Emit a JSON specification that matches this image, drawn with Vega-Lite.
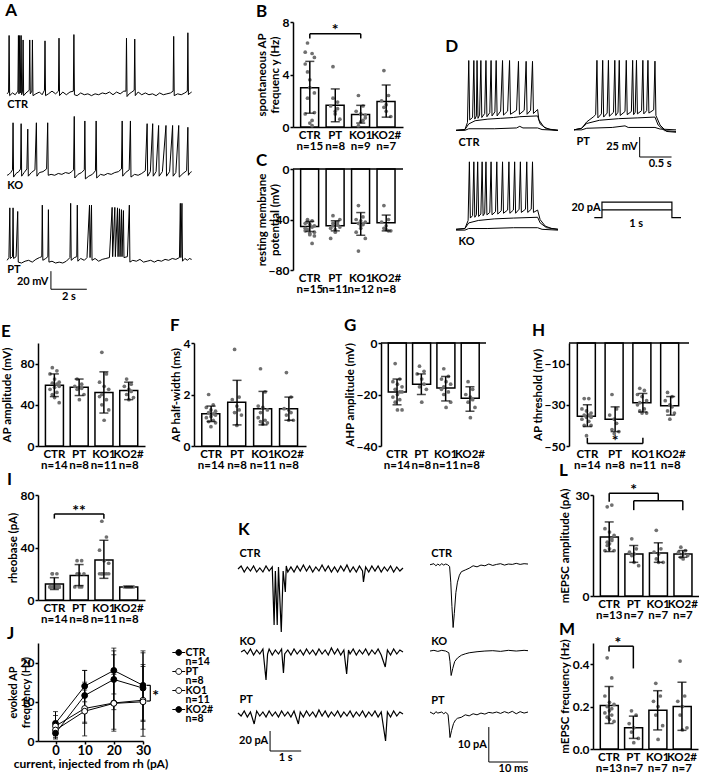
{
"$schema":"https://vega.github.io/schema/vega-lite/v6.json",
"background":"white",
"padding":{"left":0,"top":2,"right":0,"bottom":0},
"datasets":{
"aC":[{"t":0,"v":-60},{"t":0.08,"v":-58},{"t":0.11,"v":5},{"t":0.14,"v":-62},{"t":0.3,"v":-59},{"t":0.45,"v":-61},{"t":0.6,"v":-57},{"t":0.63,"v":5},{"t":0.66,"v":-60},{"t":0.7,"v":5},{"t":0.73,"v":-59},{"t":0.78,"v":5},{"t":0.81,"v":-61},{"t":0.86,"v":-57},{"t":0.89,"v":0},{"t":0.92,"v":-62},{"t":1.05,"v":-59},{"t":1.23,"v":-56},{"t":1.26,"v":0},{"t":1.29,"v":-60},{"t":1.38,"v":-57},{"t":1.41,"v":0},{"t":1.44,"v":-62},{"t":1.6,"v":-60},{"t":1.8,"v":-58},{"t":1.95,"v":-61},{"t":2.08,"v":-56},{"t":2.11,"v":-1},{"t":2.14,"v":-62},{"t":2.3,"v":-60},{"t":2.5,"v":-57},{"t":2.7,"v":-60},{"t":2.86,"v":-57},{"t":2.89,"v":2},{"t":2.92,"v":-62},{"t":3.1,"v":-58},{"t":3.3,"v":-61},{"t":3.5,"v":-58},{"t":3.69,"v":-57},{"t":3.72,"v":6},{"t":3.75,"v":-61},{"t":3.9,"v":-62},{"t":4.1,"v":-59},{"t":4.3,"v":-61},{"t":4.5,"v":-60},{"t":4.7,"v":-62},{"t":4.9,"v":-60},{"t":5.1,"v":-61},{"t":5.3,"v":-59},{"t":5.5,"v":-60},{"t":5.7,"v":-58},{"t":5.9,"v":-61},{"t":6.1,"v":-58},{"t":6.3,"v":-60},{"t":6.5,"v":-57},{"t":6.62,"v":-57},{"t":6.65,"v":2},{"t":6.68,"v":-63},{"t":6.8,"v":-60},{"t":6.95,"v":-58},{"t":7.08,"v":-56},{"t":7.11,"v":1},{"t":7.14,"v":-62},{"t":7.3,"v":-58},{"t":7.5,"v":-61},{"t":7.7,"v":-59},{"t":7.9,"v":-61},{"t":8.1,"v":-60},{"t":8.3,"v":-62},{"t":8.5,"v":-59},{"t":8.7,"v":-61},{"t":8.9,"v":-60},{"t":9.1,"v":-59},{"t":9.25,"v":-57},{"t":9.28,"v":4},{"t":9.31,"v":-62},{"t":9.5,"v":-60},{"t":9.7,"v":-61},{"t":9.9,"v":-59},{"t":10.04,"v":-57},{"t":10.07,"v":8},{"t":10.1,"v":-61},{"t":10.2,"v":-59},{"t":10.28,"v":-58}],
"aK":[{"t":0,"v":-61},{"t":0.1,"v":-60},{"t":0.2,"v":-58},{"t":0.3,"v":-55},{"t":0.33,"v":-3},{"t":0.36,"v":-63},{"t":0.5,"v":-59},{"t":0.65,"v":-57},{"t":0.75,"v":-54},{"t":0.78,"v":-4},{"t":0.81,"v":-62},{"t":0.95,"v":-58},{"t":1.1,"v":-54},{"t":1.15,"v":-10},{"t":1.18,"v":-62},{"t":1.35,"v":-58},{"t":1.55,"v":-55},{"t":1.63,"v":-3},{"t":1.66,"v":-62},{"t":1.8,"v":-58},{"t":2.0,"v":-57},{"t":2.2,"v":-54},{"t":2.26,"v":-3},{"t":2.29,"v":-61},{"t":2.45,"v":-60},{"t":2.65,"v":-61},{"t":2.85,"v":-59},{"t":3.05,"v":-60},{"t":3.25,"v":-58},{"t":3.45,"v":-59},{"t":3.6,"v":-57},{"t":3.7,"v":-55},{"t":3.74,"v":4},{"t":3.77,"v":-64},{"t":3.95,"v":-60},{"t":4.15,"v":-58},{"t":4.3,"v":-55},{"t":4.33,"v":-1},{"t":4.36,"v":-65},{"t":4.55,"v":-62},{"t":4.75,"v":-60},{"t":4.92,"v":-56},{"t":4.96,"v":-1},{"t":4.99,"v":-64},{"t":5.2,"v":-60},{"t":5.4,"v":-61},{"t":5.6,"v":-59},{"t":5.8,"v":-60},{"t":6.0,"v":-58},{"t":6.2,"v":-57},{"t":6.37,"v":-54},{"t":6.41,"v":-1},{"t":6.44,"v":-62},{"t":6.6,"v":-58},{"t":6.8,"v":-55},{"t":6.87,"v":-1},{"t":6.9,"v":-63},{"t":7.1,"v":-60},{"t":7.3,"v":-61},{"t":7.5,"v":-59},{"t":7.7,"v":-56},{"t":7.8,"v":-4},{"t":7.83,"v":-62},{"t":7.98,"v":-57},{"t":8.11,"v":-4},{"t":8.14,"v":-62},{"t":8.3,"v":-57},{"t":8.44,"v":-6},{"t":8.47,"v":-62},{"t":8.65,"v":-57},{"t":8.85,"v":-6},{"t":8.88,"v":-62},{"t":9.05,"v":-57},{"t":9.22,"v":-6},{"t":9.25,"v":-62},{"t":9.4,"v":-58},{"t":9.56,"v":-6},{"t":9.59,"v":-63},{"t":9.8,"v":-59},{"t":10.0,"v":-56},{"t":10.07,"v":-8},{"t":10.1,"v":-61},{"t":10.2,"v":-58},{"t":10.28,"v":-57}],
"aP":[{"t":0,"v":-60},{"t":0.1,"v":-57},{"t":0.15,"v":-2},{"t":0.18,"v":-58},{"t":0.3,"v":-56},{"t":0.33,"v":-2},{"t":0.36,"v":-58},{"t":0.5,"v":-56},{"t":0.59,"v":-6},{"t":0.62,"v":-62},{"t":0.8,"v":-63},{"t":1.0,"v":-61},{"t":1.2,"v":-60},{"t":1.4,"v":-62},{"t":1.6,"v":-59},{"t":1.8,"v":-57},{"t":1.93,"v":-56},{"t":1.96,"v":1},{"t":1.99,"v":-60},{"t":2.15,"v":-58},{"t":2.27,"v":-56},{"t":2.3,"v":-4},{"t":2.33,"v":-62},{"t":2.5,"v":-61},{"t":2.7,"v":-63},{"t":2.9,"v":-62},{"t":3.1,"v":-63},{"t":3.3,"v":-61},{"t":3.5,"v":-57},{"t":3.54,"v":3},{"t":3.57,"v":-60},{"t":3.75,"v":-57},{"t":3.88,"v":-56},{"t":3.91,"v":1},{"t":3.94,"v":-61},{"t":4.1,"v":-58},{"t":4.3,"v":-60},{"t":4.45,"v":-57},{"t":4.59,"v":1},{"t":4.62,"v":-57},{"t":4.7,"v":1},{"t":4.73,"v":-60},{"t":4.9,"v":-58},{"t":5.1,"v":-61},{"t":5.3,"v":-59},{"t":5.5,"v":-58},{"t":5.7,"v":-57},{"t":5.85,"v":-1.5},{"t":5.88,"v":-56},{"t":6.0,"v":-1.5},{"t":6.03,"v":-56},{"t":6.15,"v":-2},{"t":6.18,"v":-56},{"t":6.26,"v":-3},{"t":6.29,"v":-56},{"t":6.37,"v":-4},{"t":6.4,"v":-56},{"t":6.48,"v":-5},{"t":6.51,"v":-57},{"t":6.7,"v":-56},{"t":6.81,"v":1},{"t":6.84,"v":-62},{"t":7.0,"v":-60},{"t":7.2,"v":-61},{"t":7.4,"v":-59},{"t":7.6,"v":-62},{"t":7.8,"v":-61},{"t":8.0,"v":-60},{"t":8.2,"v":-62},{"t":8.4,"v":-60},{"t":8.6,"v":-61},{"t":8.8,"v":-59},{"t":9.0,"v":-60},{"t":9.2,"v":-58},{"t":9.4,"v":-59},{"t":9.6,"v":-57},{"t":9.65,"v":3},{"t":9.68,"v":-57},{"t":9.74,"v":3},{"t":9.77,"v":-61},{"t":9.9,"v":-58},{"t":10.05,"v":-60},{"t":10.15,"v":-58},{"t":10.28,"v":-59}],
"dC":[{"s":"a","t":0,"v":-68},{"s":"a","t":0.14,"v":-67},{"s":"a","t":0.18,"v":-58},{"s":"a","t":0.2,"v":19},{"s":"a","t":0.215,"v":-55},{"s":"a","t":0.26,"v":-52},{"s":"a","t":0.28,"v":19},{"s":"a","t":0.295,"v":-54},{"s":"a","t":0.32,"v":-50},{"s":"a","t":0.33,"v":19},{"s":"a","t":0.345,"v":-53},{"s":"a","t":0.37,"v":-49},{"s":"a","t":0.39,"v":19},{"s":"a","t":0.405,"v":-52},{"s":"a","t":0.45,"v":-47},{"s":"a","t":0.47,"v":19},{"s":"a","t":0.485,"v":-51},{"s":"a","t":0.53,"v":-46},{"s":"a","t":0.55,"v":19},{"s":"a","t":0.565,"v":-50},{"s":"a","t":0.61,"v":-45},{"s":"a","t":0.63,"v":19},{"s":"a","t":0.645,"v":-50},{"s":"a","t":0.7,"v":-44},{"s":"a","t":0.73,"v":19},{"s":"a","t":0.745,"v":-49},{"s":"a","t":0.81,"v":-44},{"s":"a","t":0.84,"v":19},{"s":"a","t":0.855,"v":-48},{"s":"a","t":0.95,"v":-43},{"s":"a","t":0.98,"v":18},{"s":"a","t":0.995,"v":-48},{"s":"a","t":1.07,"v":-43},{"s":"a","t":1.1,"v":18},{"s":"a","t":1.115,"v":-48},{"s":"a","t":1.17,"v":-43},{"s":"a","t":1.2,"v":18},{"s":"a","t":1.215,"v":-47},{"s":"a","t":1.28,"v":-42},{"s":"a","t":1.3,"v":-55},{"s":"a","t":1.38,"v":-64},{"s":"a","t":1.48,"v":-67},{"s":"a","t":1.6,"v":-68},
{"s":"b","t":0,"v":-68},{"s":"b","t":0.14,"v":-67},{"s":"b","t":0.2,"v":-60},{"s":"b","t":0.3,"v":-56},{"s":"b","t":0.5,"v":-54},{"s":"b","t":0.7,"v":-53},{"s":"b","t":0.9,"v":-52},{"s":"b","t":1.0,"v":-51},{"s":"b","t":1.28,"v":-50},{"s":"b","t":1.32,"v":-60},{"s":"b","t":1.42,"v":-66},{"s":"b","t":1.6,"v":-68},
{"s":"c","t":0,"v":-68},{"s":"c","t":0.14,"v":-68},{"s":"c","t":0.2,"v":-66},{"s":"c","t":0.6,"v":-66},{"s":"c","t":0.95,"v":-65},{"s":"c","t":1.0,"v":-63},{"s":"c","t":1.05,"v":-65},{"s":"c","t":1.28,"v":-65},{"s":"c","t":1.35,"v":-67},{"s":"c","t":1.6,"v":-68}],
"dP":[{"s":"a","t":0,"v":-68},{"s":"a","t":0.12,"v":-66},{"s":"a","t":0.2,"v":-58},{"s":"a","t":0.3,"v":-52},{"s":"a","t":0.34,"v":-49},{"s":"a","t":0.36,"v":19},{"s":"a","t":0.375,"v":-53},{"s":"a","t":0.43,"v":-48},{"s":"a","t":0.45,"v":19},{"s":"a","t":0.465,"v":-52},{"s":"a","t":0.52,"v":-47},{"s":"a","t":0.54,"v":19},{"s":"a","t":0.555,"v":-51},{"s":"a","t":0.62,"v":-46},{"s":"a","t":0.64,"v":19},{"s":"a","t":0.655,"v":-50},{"s":"a","t":0.69,"v":-46},{"s":"a","t":0.71,"v":19},{"s":"a","t":0.725,"v":-50},{"s":"a","t":0.8,"v":-45},{"s":"a","t":0.82,"v":19},{"s":"a","t":0.835,"v":-49},{"s":"a","t":0.9,"v":-45},{"s":"a","t":0.92,"v":19},{"s":"a","t":0.935,"v":-49},{"s":"a","t":0.96,"v":-46},{"s":"a","t":0.98,"v":19},{"s":"a","t":0.995,"v":-48},{"s":"a","t":1.06,"v":-44},{"s":"a","t":1.08,"v":19},{"s":"a","t":1.095,"v":-48},{"s":"a","t":1.14,"v":-44},{"s":"a","t":1.16,"v":19},{"s":"a","t":1.175,"v":-47},{"s":"a","t":1.25,"v":-43},{"s":"a","t":1.27,"v":18},{"s":"a","t":1.285,"v":-50},{"s":"a","t":1.35,"v":-62},{"s":"a","t":1.45,"v":-70},{"s":"a","t":1.6,"v":-71},
{"s":"b","t":0,"v":-68},{"s":"b","t":0.12,"v":-66},{"s":"b","t":0.2,"v":-60},{"s":"b","t":0.4,"v":-56},{"s":"b","t":0.7,"v":-54},{"s":"b","t":1.0,"v":-53},{"s":"b","t":1.27,"v":-52},{"s":"b","t":1.32,"v":-62},{"s":"b","t":1.42,"v":-69},{"s":"b","t":1.6,"v":-70},
{"s":"c","t":0,"v":-68},{"s":"c","t":0.12,"v":-68},{"s":"c","t":0.2,"v":-66},{"s":"c","t":0.6,"v":-65},{"s":"c","t":0.8,"v":-63},{"s":"c","t":0.85,"v":-65},{"s":"c","t":1.27,"v":-65},{"s":"c","t":1.35,"v":-67},{"s":"c","t":1.6,"v":-68}],
"dK":[{"s":"a","t":0,"v":-68},{"s":"a","t":0.14,"v":-67},{"s":"a","t":0.19,"v":-57},{"s":"a","t":0.21,"v":16},{"s":"a","t":0.225,"v":-54},{"s":"a","t":0.26,"v":-51},{"s":"a","t":0.28,"v":16},{"s":"a","t":0.295,"v":-53},{"s":"a","t":0.32,"v":-50},{"s":"a","t":0.34,"v":16},{"s":"a","t":0.355,"v":-52},{"s":"a","t":0.39,"v":-49},{"s":"a","t":0.41,"v":16},{"s":"a","t":0.425,"v":-51},{"s":"a","t":0.45,"v":-48},{"s":"a","t":0.47,"v":16},{"s":"a","t":0.485,"v":-50},{"s":"a","t":0.53,"v":-47},{"s":"a","t":0.55,"v":16},{"s":"a","t":0.565,"v":-50},{"s":"a","t":0.62,"v":-46},{"s":"a","t":0.64,"v":16},{"s":"a","t":0.655,"v":-49},{"s":"a","t":0.71,"v":-45},{"s":"a","t":0.73,"v":16},{"s":"a","t":0.745,"v":-48},{"s":"a","t":0.81,"v":-44},{"s":"a","t":0.83,"v":16},{"s":"a","t":0.845,"v":-48},{"s":"a","t":0.9,"v":-44},{"s":"a","t":0.92,"v":16},{"s":"a","t":0.935,"v":-48},{"s":"a","t":0.99,"v":-43},{"s":"a","t":1.01,"v":16},{"s":"a","t":1.025,"v":-47},{"s":"a","t":1.09,"v":-43},{"s":"a","t":1.11,"v":16},{"s":"a","t":1.125,"v":-47},{"s":"a","t":1.18,"v":-43},{"s":"a","t":1.2,"v":16},{"s":"a","t":1.215,"v":-47},{"s":"a","t":1.28,"v":-44},{"s":"a","t":1.32,"v":-56},{"s":"a","t":1.4,"v":-64},{"s":"a","t":1.5,"v":-67},{"s":"a","t":1.6,"v":-68},
{"s":"b","t":0,"v":-68},{"s":"b","t":0.14,"v":-67},{"s":"b","t":0.2,"v":-60},{"s":"b","t":0.35,"v":-57},{"s":"b","t":0.6,"v":-55},{"s":"b","t":0.9,"v":-54},{"s":"b","t":1.28,"v":-53},{"s":"b","t":1.32,"v":-60},{"s":"b","t":1.42,"v":-66},{"s":"b","t":1.6,"v":-68},
{"s":"c","t":0,"v":-69},{"s":"c","t":0.14,"v":-69},{"s":"c","t":0.2,"v":-67},{"s":"c","t":0.5,"v":-67},{"s":"c","t":0.9,"v":-66},{"s":"c","t":1.28,"v":-66},{"s":"c","t":1.35,"v":-68},{"s":"c","t":1.6,"v":-69}],
"stim":[{"s":"a","k":1,"t":-0.11,"i":0},{"s":"a","k":2,"t":0,"i":0},{"s":"a","k":3,"t":0,"i":20},{"s":"a","k":4,"t":1,"i":20},{"s":"a","k":5,"t":1,"i":0},{"s":"a","k":6,"t":1.13,"i":0},{"s":"b","k":1,"t":0,"i":10},{"s":"b","k":2,"t":1,"i":10}],
"kCL":[{"t":0,"v":0},{"t":0.1,"v":3},{"t":0.2,"v":-3},{"t":0.3,"v":2},{"t":0.4,"v":-2},{"t":0.5,"v":3},{"t":0.6,"v":-3},{"t":0.7,"v":1},{"t":0.8,"v":-3},{"t":0.9,"v":3},{"t":1.0,"v":-2},{"t":1.1,"v":2},{"t":1.16,"v":-56},{"t":1.2,"v":-2},{"t":1.26,"v":-56},{"t":1.3,"v":2},{"t":1.39,"v":-63},{"t":1.45,"v":-2},{"t":1.52,"v":-23},{"t":1.55,"v":3},{"t":1.6,"v":-3},{"t":1.7,"v":2},{"t":1.8,"v":-3},{"t":1.9,"v":3},{"t":2.0,"v":-2},{"t":2.1,"v":4},{"t":2.2,"v":-2},{"t":2.3,"v":3},{"t":2.4,"v":-3},{"t":2.5,"v":2},{"t":2.6,"v":-2},{"t":2.7,"v":4},{"t":2.8,"v":-2},{"t":2.9,"v":3},{"t":3.0,"v":-3},{"t":3.1,"v":2},{"t":3.2,"v":-3},{"t":3.3,"v":3},{"t":3.4,"v":-2},{"t":3.5,"v":4},{"t":3.6,"v":-3},{"t":3.7,"v":2},{"t":3.8,"v":-3},{"t":3.9,"v":3},{"t":4.0,"v":-2},{"t":4.03,"v":-13},{"t":4.1,"v":2},{"t":4.2,"v":-3},{"t":4.3,"v":3},{"t":4.4,"v":-2},{"t":4.5,"v":3},{"t":4.6,"v":-3},{"t":4.7,"v":2},{"t":4.8,"v":-2},{"t":4.9,"v":3},{"t":5.0,"v":-3},{"t":5.1,"v":2},{"t":5.2,"v":-2},{"t":5.3,"v":1}],
"kKL":[{"t":0.1,"v":0},{"t":0.2,"v":2},{"t":0.3,"v":-2},{"t":0.4,"v":3},{"t":0.5,"v":-3},{"t":0.6,"v":2},{"t":0.7,"v":-2},{"t":0.8,"v":3},{"t":0.9,"v":-28},{"t":0.95,"v":-2},{"t":1.0,"v":3},{"t":1.1,"v":-3},{"t":1.2,"v":2},{"t":1.3,"v":-2},{"t":1.4,"v":3},{"t":1.46,"v":-21},{"t":1.5,"v":-2},{"t":1.6,"v":2},{"t":1.7,"v":-3},{"t":1.8,"v":3},{"t":1.9,"v":-2},{"t":2.0,"v":2},{"t":2.1,"v":-3},{"t":2.2,"v":3},{"t":2.3,"v":-2},{"t":2.4,"v":2},{"t":2.5,"v":-3},{"t":2.6,"v":3},{"t":2.7,"v":-2},{"t":2.8,"v":2},{"t":2.9,"v":-3},{"t":3.0,"v":4},{"t":3.1,"v":-2},{"t":3.2,"v":3},{"t":3.3,"v":-3},{"t":3.4,"v":2},{"t":3.49,"v":-22},{"t":3.55,"v":2},{"t":3.6,"v":-2},{"t":3.7,"v":3},{"t":3.8,"v":-3},{"t":3.9,"v":2},{"t":4.0,"v":-2},{"t":4.1,"v":3},{"t":4.2,"v":-3},{"t":4.3,"v":2},{"t":4.4,"v":-2},{"t":4.5,"v":3},{"t":4.6,"v":-3},{"t":4.73,"v":-15},{"t":4.8,"v":2},{"t":4.9,"v":-3},{"t":5.0,"v":3},{"t":5.1,"v":-2},{"t":5.2,"v":2},{"t":5.3,"v":0}],
"kPL":[{"t":0,"v":1},{"t":0.1,"v":-2},{"t":0.2,"v":3},{"t":0.3,"v":-3},{"t":0.4,"v":2},{"t":0.52,"v":-10},{"t":0.6,"v":3},{"t":0.7,"v":-2},{"t":0.8,"v":2},{"t":0.9,"v":-3},{"t":1.0,"v":3},{"t":1.1,"v":-2},{"t":1.2,"v":2},{"t":1.3,"v":-3},{"t":1.4,"v":3},{"t":1.5,"v":-2},{"t":1.6,"v":2},{"t":1.7,"v":-3},{"t":1.8,"v":3},{"t":1.94,"v":-10},{"t":2.0,"v":2},{"t":2.1,"v":-3},{"t":2.2,"v":3},{"t":2.3,"v":-2},{"t":2.4,"v":2},{"t":2.5,"v":-3},{"t":2.6,"v":4},{"t":2.7,"v":-2},{"t":2.8,"v":3},{"t":2.9,"v":-3},{"t":3.0,"v":2},{"t":3.1,"v":-2},{"t":3.2,"v":3},{"t":3.3,"v":-3},{"t":3.4,"v":2},{"t":3.5,"v":-2},{"t":3.6,"v":3},{"t":3.7,"v":-3},{"t":3.8,"v":2},{"t":3.9,"v":-2},{"t":4.0,"v":3},{"t":4.1,"v":-3},{"t":4.2,"v":2},{"t":4.3,"v":-2},{"t":4.4,"v":3},{"t":4.5,"v":-3},{"t":4.6,"v":2},{"t":4.74,"v":-27},{"t":4.8,"v":2},{"t":4.9,"v":-3},{"t":5.0,"v":3},{"t":5.1,"v":-2},{"t":5.2,"v":2},{"t":5.3,"v":0}],
"kCS":[{"t":0,"v":0},{"t":1,"v":0.3},{"t":1.5,"v":-0.3},{"t":2,"v":0.2},{"t":2.5,"v":-0.2},{"t":3,"v":0.3},{"t":3.5,"v":-0.1},{"t":4,"v":0.2},{"t":4.5,"v":0},{"t":5,"v":-0.5},{"t":5.3,"v":-5},{"t":5.6,"v":-12},{"t":5.9,"v":-18},{"t":6.2,"v":-14},{"t":6.6,"v":-8},{"t":7,"v":-5},{"t":7.5,"v":-3},{"t":8,"v":-2},{"t":9,"v":-1.5},{"t":10,"v":-1},{"t":11,"v":-0.3},{"t":12,"v":-0.6},{"t":13,"v":-0.1},{"t":14,"v":-0.3},{"t":15,"v":0.2},{"t":16,"v":-0.2},{"t":17,"v":0.1},{"t":18,"v":0.3},{"t":19,"v":-0.1},{"t":20,"v":0.2},{"t":21,"v":0.1},{"t":22,"v":0.4},{"t":23,"v":0.1},{"t":24,"v":0.3},{"t":25,"v":0.2}],
"kKS":[{"t":0,"v":0},{"t":1,"v":0.2},{"t":2,"v":-0.1},{"t":3,"v":0.2},{"t":4,"v":0},{"t":4.8,"v":-0.5},{"t":5.1,"v":-3},{"t":5.4,"v":-7},{"t":5.8,"v":-5},{"t":6.3,"v":-3},{"t":7,"v":-2},{"t":8,"v":-1.2},{"t":9,"v":-0.8},{"t":10,"v":-0.5},{"t":12,"v":-0.2},{"t":14,"v":0},{"t":16,"v":0.1},{"t":18,"v":-0.1},{"t":20,"v":0.2},{"t":22,"v":0},{"t":24,"v":0.2},{"t":25,"v":0.1}],
"kPS":[{"t":0,"v":0.3},{"t":1,"v":-0.3},{"t":1.5,"v":0.4},{"t":2,"v":0},{"t":3,"v":0.3},{"t":3.5,"v":-0.2},{"t":4,"v":0.2},{"t":4.6,"v":-0.4},{"t":4.9,"v":-4},{"t":5.1,"v":-7},{"t":5.5,"v":-5},{"t":6,"v":-3},{"t":6.5,"v":-2},{"t":7,"v":-1.5},{"t":8,"v":-1.2},{"t":9,"v":-0.5},{"t":10,"v":-0.8},{"t":11,"v":-0.2},{"t":12,"v":-0.5},{"t":13,"v":0},{"t":14,"v":-0.3},{"t":15,"v":0.2},{"t":16,"v":0},{"t":17,"v":0.3},{"t":18,"v":-0.1},{"t":19,"v":0.4},{"t":20,"v":0},{"t":21,"v":0.5},{"t":22,"v":-0.2},{"t":23,"v":0.4},{"t":24,"v":0},{"t":25,"v":0.3}],
"Bm":[{"g":"CTR","m":3.0,"lo":1.05,"hi":5.0},{"g":"PT","m":1.65,"lo":0.4,"hi":2.9},{"g":"KO1","m":0.95,"lo":0.3,"hi":1.65},{"g":"KO2#","m":1.95,"lo":0.75,"hi":3.2}],
"Bp":[{"g":"CTR","v":6.4},{"g":"CTR","v":0.3},{"g":"CTR","v":5.6},{"g":"CTR","v":1.1},{"g":"CTR","v":5.7},{"g":"CTR","v":2.2},{"g":"CTR","v":3.6},{"g":"CTR","v":0.5},{"g":"CTR","v":5.3},{"g":"CTR","v":1.0},{"g":"CTR","v":4.2},{"g":"CTR","v":3.0},{"g":"CTR","v":0.1},{"g":"CTR","v":2.6},{"g":"CTR","v":4.8},{"g":"PT","v":4.6},{"g":"PT","v":1.2},{"g":"PT","v":1.9},{"g":"PT","v":0.6},{"g":"PT","v":1.6},{"g":"PT","v":2.2},{"g":"PT","v":1.0},{"g":"PT","v":1.4},{"g":"KO1","v":2.4},{"g":"KO1","v":0.4},{"g":"KO1","v":1.6},{"g":"KO1","v":0.7},{"g":"KO1","v":1.2},{"g":"KO1","v":0.1},{"g":"KO1","v":1.0},{"g":"KO1","v":0.5},{"g":"KO1","v":0.9},{"g":"KO2#","v":4.3},{"g":"KO2#","v":1.2},{"g":"KO2#","v":2.4},{"g":"KO2#","v":0.8},{"g":"KO2#","v":2.0},{"g":"KO2#","v":1.5},{"g":"KO2#","v":1.7}],
"Cm":[{"g":"CTR","m":-45.5,"lo":-49.5,"hi":-41.5},{"g":"PT","m":-45,"lo":-49,"hi":-41},{"g":"KO1","m":-43,"lo":-52.5,"hi":-34.5},{"g":"KO2#","m":-42.5,"lo":-49,"hi":-36.5}],
"Cp":[{"g":"CTR","v":-40},{"g":"CTR","v":-52},{"g":"CTR","v":-41},{"g":"CTR","v":-50},{"g":"CTR","v":-43},{"g":"CTR","v":-48},{"g":"CTR","v":-44},{"g":"CTR","v":-59},{"g":"CTR","v":-45},{"g":"CTR","v":-47},{"g":"CTR","v":-42},{"g":"CTR","v":-51},{"g":"CTR","v":-46},{"g":"CTR","v":-53},{"g":"CTR","v":-49},{"g":"PT","v":-37},{"g":"PT","v":-50},{"g":"PT","v":-42},{"g":"PT","v":-46},{"g":"PT","v":-55},{"g":"PT","v":-43},{"g":"PT","v":-48},{"g":"PT","v":-44},{"g":"PT","v":-40},{"g":"PT","v":-47},{"g":"PT","v":-45},{"g":"KO1","v":-29},{"g":"KO1","v":-47},{"g":"KO1","v":-38},{"g":"KO1","v":-55},{"g":"KO1","v":-40},{"g":"KO1","v":-65},{"g":"KO1","v":-41},{"g":"KO1","v":-44},{"g":"KO1","v":-42},{"g":"KO1","v":-50},{"g":"KO1","v":-43},{"g":"KO1","v":-45},{"g":"KO2#","v":-29},{"g":"KO2#","v":-48},{"g":"KO2#","v":-40},{"g":"KO2#","v":-49},{"g":"KO2#","v":-42},{"g":"KO2#","v":-47},{"g":"KO2#","v":-45},{"g":"KO2#","v":-49}],
"Em":[{"g":"CTR","m":59,"lo":48,"hi":70},{"g":"PT","m":57,"lo":49,"hi":65},{"g":"KO1","m":52,"lo":32,"hi":72},{"g":"KO2#","m":54,"lo":45,"hi":62}],
"Ep":[{"g":"CTR","v":76},{"g":"CTR","v":47},{"g":"CTR","v":73},{"g":"CTR","v":42},{"g":"CTR","v":70},{"g":"CTR","v":50},{"g":"CTR","v":65},{"g":"CTR","v":52},{"g":"CTR","v":62},{"g":"CTR","v":55},{"g":"CTR","v":61},{"g":"CTR","v":57},{"g":"CTR","v":60},{"g":"CTR","v":58},{"g":"PT","v":65},{"g":"PT","v":45},{"g":"PT","v":60},{"g":"PT","v":50},{"g":"PT","v":58},{"g":"PT","v":55},{"g":"PT","v":57},{"g":"PT","v":56},{"g":"KO1","v":91},{"g":"KO1","v":25},{"g":"KO1","v":70},{"g":"KO1","v":35},{"g":"KO1","v":62},{"g":"KO1","v":40},{"g":"KO1","v":58},{"g":"KO1","v":45},{"g":"KO1","v":55},{"g":"KO1","v":48},{"g":"KO1","v":50},{"g":"KO2#","v":65},{"g":"KO2#","v":45},{"g":"KO2#","v":60},{"g":"KO2#","v":47},{"g":"KO2#","v":58},{"g":"KO2#","v":50},{"g":"KO2#","v":55},{"g":"KO2#","v":53}],
"Fm":[{"g":"CTR","m":1.25,"lo":0.95,"hi":1.55},{"g":"PT","m":1.7,"lo":0.82,"hi":2.55},{"g":"KO1","m":1.45,"lo":0.82,"hi":2.12},{"g":"KO2#","m":1.45,"lo":1.0,"hi":1.9}],
"Fp":[{"g":"CTR","v":2.0},{"g":"CTR","v":0.75},{"g":"CTR","v":1.6},{"g":"CTR","v":0.9},{"g":"CTR","v":1.5},{"g":"CTR","v":0.95},{"g":"CTR","v":1.4},{"g":"CTR","v":1.0},{"g":"CTR","v":1.35},{"g":"CTR","v":1.1},{"g":"CTR","v":1.3},{"g":"CTR","v":1.15},{"g":"CTR","v":1.25},{"g":"CTR","v":1.2},{"g":"PT","v":3.75},{"g":"PT","v":0.8},{"g":"PT","v":1.9},{"g":"PT","v":1.2},{"g":"PT","v":1.8},{"g":"PT","v":1.3},{"g":"PT","v":1.55},{"g":"PT","v":1.4},{"g":"KO1","v":3.0},{"g":"KO1","v":0.85},{"g":"KO1","v":2.1},{"g":"KO1","v":0.9},{"g":"KO1","v":1.55},{"g":"KO1","v":0.95},{"g":"KO1","v":1.5},{"g":"KO1","v":1.0},{"g":"KO1","v":1.4},{"g":"KO1","v":1.1},{"g":"KO1","v":1.3},{"g":"KO2#","v":2.85},{"g":"KO2#","v":1.0},{"g":"KO2#","v":1.9},{"g":"KO2#","v":1.0},{"g":"KO2#","v":1.45},{"g":"KO2#","v":1.2},{"g":"KO2#","v":1.4},{"g":"KO2#","v":1.3}],
"Gm":[{"g":"CTR","m":-19,"lo":-24,"hi":-14},{"g":"PT","m":-16,"lo":-20,"hi":-12},{"g":"KO1","m":-17.5,"lo":-22.5,"hi":-13},{"g":"KO2#","m":-21.5,"lo":-26.5,"hi":-17}],
"Gp":[{"g":"CTR","v":-8},{"g":"CTR","v":-26},{"g":"CTR","v":-14},{"g":"CTR","v":-26},{"g":"CTR","v":-15},{"g":"CTR","v":-23},{"g":"CTR","v":-16},{"g":"CTR","v":-22},{"g":"CTR","v":-17},{"g":"CTR","v":-21},{"g":"CTR","v":-18},{"g":"CTR","v":-20},{"g":"CTR","v":-19},{"g":"CTR","v":-19},{"g":"PT","v":-9},{"g":"PT","v":-23},{"g":"PT","v":-11},{"g":"PT","v":-18},{"g":"PT","v":-12},{"g":"PT","v":-17},{"g":"PT","v":-14},{"g":"PT","v":-16},{"g":"KO1","v":-10},{"g":"KO1","v":-25},{"g":"KO1","v":-13},{"g":"KO1","v":-23},{"g":"KO1","v":-14},{"g":"KO1","v":-20},{"g":"KO1","v":-15},{"g":"KO1","v":-19},{"g":"KO1","v":-16},{"g":"KO1","v":-18},{"g":"KO1","v":-17},{"g":"KO2#","v":-15},{"g":"KO2#","v":-29},{"g":"KO2#","v":-18},{"g":"KO2#","v":-25},{"g":"KO2#","v":-20},{"g":"KO2#","v":-23},{"g":"KO2#","v":-21},{"g":"KO2#","v":-22}],
"Hm":[{"g":"CTR","m":-35.5,"lo":-40.5,"hi":-30},{"g":"PT","m":-37,"lo":-43,"hi":-31},{"g":"KO1","m":-29,"lo":-33.5,"hi":-24.5},{"g":"KO2#","m":-30.5,"lo":-35,"hi":-26}],
"Hp":[{"g":"CTR","v":-27},{"g":"CTR","v":-45},{"g":"CTR","v":-27},{"g":"CTR","v":-40},{"g":"CTR","v":-32},{"g":"CTR","v":-40},{"g":"CTR","v":-33},{"g":"CTR","v":-38},{"g":"CTR","v":-34},{"g":"CTR","v":-37},{"g":"CTR","v":-35},{"g":"CTR","v":-36},{"g":"CTR","v":-35},{"g":"CTR","v":-36},{"g":"PT","v":-25},{"g":"PT","v":-44},{"g":"PT","v":-32},{"g":"PT","v":-43},{"g":"PT","v":-35},{"g":"PT","v":-42},{"g":"PT","v":-37},{"g":"PT","v":-39},{"g":"KO1","v":-22},{"g":"KO1","v":-34},{"g":"KO1","v":-23},{"g":"KO1","v":-34},{"g":"KO1","v":-25},{"g":"KO1","v":-33},{"g":"KO1","v":-26},{"g":"KO1","v":-32},{"g":"KO1","v":-28},{"g":"KO1","v":-30},{"g":"KO1","v":-29},{"g":"KO2#","v":-24},{"g":"KO2#","v":-37},{"g":"KO2#","v":-26},{"g":"KO2#","v":-34},{"g":"KO2#","v":-28},{"g":"KO2#","v":-33},{"g":"KO2#","v":-30},{"g":"KO2#","v":-31}],
"Im":[{"g":"CTR","m":12.1,"lo":8,"hi":17},{"g":"PT","m":18.75,"lo":11,"hi":27},{"g":"KO1","m":30.5,"lo":16.5,"hi":45.5},{"g":"KO2#","m":10,"lo":10,"hi":10}],
"Ip":[{"g":"CTR","v":20},{"g":"CTR","v":10},{"g":"CTR","v":20},{"g":"CTR","v":10},{"g":"CTR","v":10},{"g":"CTR","v":20},{"g":"CTR","v":10},{"g":"CTR","v":10},{"g":"CTR","v":10},{"g":"CTR","v":10},{"g":"CTR","v":10},{"g":"CTR","v":10},{"g":"CTR","v":10},{"g":"CTR","v":10},{"g":"PT","v":30},{"g":"PT","v":10},{"g":"PT","v":30},{"g":"PT","v":20},{"g":"PT","v":10},{"g":"PT","v":20},{"g":"PT","v":20},{"g":"PT","v":10},{"g":"KO1","v":60},{"g":"KO1","v":20},{"g":"KO1","v":48},{"g":"KO1","v":20},{"g":"KO1","v":38},{"g":"KO1","v":20},{"g":"KO1","v":30},{"g":"KO1","v":20},{"g":"KO1","v":28},{"g":"KO1","v":20},{"g":"KO1","v":20},{"g":"KO2#","v":10},{"g":"KO2#","v":10},{"g":"KO2#","v":10},{"g":"KO2#","v":10},{"g":"KO2#","v":10},{"g":"KO2#","v":10},{"g":"KO2#","v":10},{"g":"KO2#","v":10}],
"Lm":[{"g":"CTR","m":17.5,"lo":13.2,"hi":22},{"g":"PT","m":12.5,"lo":10,"hi":15},{"g":"KO1","m":12.8,"lo":10,"hi":15.8},{"g":"KO2#","m":12.5,"lo":11.5,"hi":13.5}],
"Lp":[{"g":"CTR","v":26.5},{"g":"CTR","v":14},{"g":"CTR","v":27},{"g":"CTR","v":13.5},{"g":"CTR","v":20},{"g":"CTR","v":15},{"g":"CTR","v":19},{"g":"CTR","v":16.5},{"g":"CTR","v":18},{"g":"CTR","v":13.5},{"g":"CTR","v":16},{"g":"CTR","v":15.5},{"g":"CTR","v":17},{"g":"PT","v":17},{"g":"PT","v":10},{"g":"PT","v":14},{"g":"PT","v":9},{"g":"PT","v":13},{"g":"PT","v":12},{"g":"PT","v":12.5},{"g":"KO1","v":19.5},{"g":"KO1","v":10},{"g":"KO1","v":14},{"g":"KO1","v":10},{"g":"KO1","v":13},{"g":"KO1","v":11},{"g":"KO1","v":12.5},{"g":"KO2#","v":14.5},{"g":"KO2#","v":11},{"g":"KO2#","v":13.5},{"g":"KO2#","v":12},{"g":"KO2#","v":13},{"g":"KO2#","v":11.5},{"g":"KO2#","v":12.5}],
"Mm":[{"g":"CTR","m":0.205,"lo":0.12,"hi":0.295},{"g":"PT","m":0.1,"lo":0.05,"hi":0.155},{"g":"KO1","m":0.183,"lo":0.09,"hi":0.275},{"g":"KO2#","m":0.2,"lo":0.088,"hi":0.315}],
"Mp":[{"g":"CTR","v":0.43},{"g":"CTR","v":0.14},{"g":"CTR","v":0.335},{"g":"CTR","v":0.13},{"g":"CTR","v":0.25},{"g":"CTR","v":0.15},{"g":"CTR","v":0.22},{"g":"CTR","v":0.16},{"g":"CTR","v":0.21},{"g":"CTR","v":0.17},{"g":"CTR","v":0.2},{"g":"CTR","v":0.18},{"g":"CTR","v":0.19},{"g":"PT","v":0.18},{"g":"PT","v":0.03},{"g":"PT","v":0.16},{"g":"PT","v":0.05},{"g":"PT","v":0.12},{"g":"PT","v":0.08},{"g":"PT","v":0.1},{"g":"KO1","v":0.31},{"g":"KO1","v":0.045},{"g":"KO1","v":0.25},{"g":"KO1","v":0.11},{"g":"KO1","v":0.225},{"g":"KO1","v":0.16},{"g":"KO1","v":0.2},{"g":"KO2#","v":0.415},{"g":"KO2#","v":0.09},{"g":"KO2#","v":0.25},{"g":"KO2#","v":0.1},{"g":"KO2#","v":0.225},{"g":"KO2#","v":0.16},{"g":"KO2#","v":0.2}],
"J":[{"g":"CTR","c":0,"m":4.5,"lo":1.5,"hi":7.5},{"g":"CTR","c":10,"m":14,"lo":10,"hi":18},{"g":"CTR","c":20,"m":18,"lo":12,"hi":23.7},{"g":"CTR","c":30,"m":14.2,"lo":5.3,"hi":23},
{"g":"PT","c":0,"m":3.8,"lo":1.0,"hi":6.5},{"g":"PT","c":10,"m":8.3,"lo":4.5,"hi":15},{"g":"PT","c":20,"m":9.7,"lo":3,"hi":22},{"g":"PT","c":30,"m":10.4,"lo":5,"hi":19},
{"g":"KO1","c":0,"m":2.8,"lo":0.8,"hi":5},{"g":"KO1","c":10,"m":7.6,"lo":1.3,"hi":13},{"g":"KO1","c":20,"m":9.6,"lo":2.5,"hi":17},{"g":"KO1","c":30,"m":10.0,"lo":1.2,"hi":19.5},
{"g":"KO2#","c":0,"m":2.0,"lo":0.5,"hi":4.0},{"g":"KO2#","c":10,"m":11.6,"lo":4.8,"hi":18},{"g":"KO2#","c":20,"m":15.7,"lo":8,"hi":23},{"g":"KO2#","c":30,"m":13.5,"lo":3,"hi":22.5}],
"Jleg":[{"g":"CTR","n":"CTR|n=14"},{"g":"PT","n":"PT|n=8"},{"g":"KO1","n":"KO1|n=11"},{"g":"KO2#","n":"KO2#|n=8"}]
},
"concat":[
{"concat":[
 {"concat":[
  {"title":"A","concat":[
   {"width":154,"height":88,"layer":[
    {"data":{"name":"aC"},"mark":{"type":"line","color":"black","strokeWidth":1,"clip":false},"encoding":{"x":{"field":"t","type":"quantitative","scale":{"domain":[1.72,10.3],"nice":false,"zero":false},"axis":null},"y":{"field":"v","type":"quantitative","scale":{"domain":[-78,20],"nice":false},"axis":null}}},
    {"data":{"values":[{"l":"CTR"}]},"mark":{"type":"text","align":"left","baseline":"top","fontSize":11},"encoding":{"x":{"datum":0},"y":{"datum":-66},"text":{"field":"l"}}}]},
   {"width":154,"height":86,"layer":[
    {"data":{"name":"aK"},"mark":{"type":"line","color":"black","strokeWidth":1,"clip":false},"encoding":{"x":{"field":"t","type":"quantitative","scale":{"domain":[1.72,10.3],"nice":false,"zero":false},"axis":null},"y":{"field":"v","type":"quantitative","scale":{"domain":[-85,10],"nice":false},"axis":null}}},
    {"data":{"values":[{"l":"KO"}]},"mark":{"type":"text","align":"left","baseline":"top","fontSize":11},"encoding":{"x":{"datum":0},"y":{"datum":-66},"text":{"field":"l"}}}]},
   {"width":154,"height":104,"layer":[
    {"data":{"name":"aP"},"mark":{"type":"line","color":"black","strokeWidth":1,"clip":false},"encoding":{"x":{"field":"t","type":"quantitative","scale":{"domain":[1.72,10.3],"nice":false,"zero":false},"axis":null},"y":{"field":"v","type":"quantitative","scale":{"domain":[-105,10],"nice":false},"axis":null}}},
    {"data":{"values":[{"l":"PT"}]},"mark":{"type":"text","align":"left","baseline":"top","fontSize":11},"encoding":{"x":{"datum":0},"y":{"datum":-64},"text":{"field":"l"}}},
    {"data":{"values":[{}]},"mark":{"type":"rule","color":"black","strokeWidth":1},"encoding":{"x":{"datum":2.44},"y":{"datum":-72},"y2":{"datum":-92}}},
    {"data":{"values":[{}]},"mark":{"type":"rule","color":"black","strokeWidth":1},"encoding":{"x":{"datum":2.44},"x2":{"datum":4.44},"y":{"datum":-92}}},
    {"data":{"values":[{"l":"20 mV"}]},"mark":{"type":"text","align":"right","baseline":"middle","fontSize":11},"encoding":{"x":{"datum":2.3},"y":{"datum":-84},"text":{"field":"l"}}},
    {"data":{"values":[{"l":"2 s"}]},"mark":{"type":"text","align":"center","baseline":"top","fontSize":11},"encoding":{"x":{"datum":3.44},"y":{"datum":-94},"text":{"field":"l"}}}]}
  ],"columns":1,"align":"none","spacing":0},
  {"concat":[
   {"concat":[
    {"title":{"text":"B","offset":-5},"width":110,"height":105,"layer":[
     {"data":{"name":"Bm"},"mark":{"type":"bar","fill":"white","stroke":"black","strokeWidth":1.5},"encoding":{"x":{"field":"g","type":"nominal","scale":{"domain":["CTR","PT","KO1","KO2#"],"paddingInner":0.28,"paddingOuter":0.3},"axis":{"title":null,"ticks":false,"labelAngle":0,"labelPadding":2,"labelOverlap":false,"labelExpr":"[datum.value, datum.value=='CTR'?'n=15':datum.value=='PT'?'n=8':datum.value=='KO1'?'n=9':'n=7']"}},"y":{"field":"m","type":"quantitative","scale":{"domain":[0,8],"nice":false},"axis":{"values":[0,2,4,6,8],"titleX":-26,"title":["spontaneous AP","frequenc y (Hz)"]}}}},
     {"data":{"name":"Bp"},"transform":[{"window":[{"op":"row_number","as":"r"}],"groupby":["g"]},{"calculate":"datum.r % 5 - 2","as":"j"}],"mark":{"type":"circle","size":14,"color":"#707070","opacity":1},"encoding":{"x":{"field":"g","type":"nominal"},"xOffset":{"field":"j","type":"quantitative","scale":{"domain":[-4,4]}},"y":{"field":"v","type":"quantitative"}}},
     {"data":{"name":"Bm"},"mark":{"type":"rule","color":"black","strokeWidth":1.5},"encoding":{"x":{"field":"g","type":"nominal"},"y":{"field":"lo","type":"quantitative"},"y2":{"field":"hi"}}},
     {"data":{"name":"Bm"},"mark":{"type":"tick","color":"black","thickness":1.5,"size":9,"orient":"horizontal"},"encoding":{"x":{"field":"g","type":"nominal"},"y":{"field":"lo","type":"quantitative"}}},
     {"data":{"name":"Bm"},"mark":{"type":"tick","color":"black","thickness":1.5,"size":9,"orient":"horizontal"},"encoding":{"x":{"field":"g","type":"nominal"},"y":{"field":"hi","type":"quantitative"}}},
     {"data":{"values":[{}]},"mark":{"type":"rule","strokeWidth":1.5,"color":"black"},"encoding":{"x":{"datum":"CTR"},"x2":{"datum":"KO1"},"y":{"datum":7.1}}},
     {"data":{"values":[{}]},"mark":{"type":"rule","strokeWidth":1.5,"color":"black"},"encoding":{"x":{"datum":"CTR"},"y":{"datum":7.1},"y2":{"datum":6.75}}},
     {"data":{"values":[{}]},"mark":{"type":"rule","strokeWidth":1.5,"color":"black"},"encoding":{"x":{"datum":"KO1"},"y":{"datum":7.1},"y2":{"datum":6.75}}},
     {"data":{"values":[{}]},"mark":{"type":"text","text":"*","fontSize":16,"baseline":"middle","color":"black"},"encoding":{"x":{"datum":"PT"},"y":{"datum":7.4}}}]},
    {"title":{"text":"C","offset":-7},"width":110,"height":101,"layer":[
     {"data":{"name":"Cm"},"mark":{"type":"bar","fill":"white","stroke":"black","strokeWidth":1.5},"encoding":{"x":{"field":"g","type":"nominal","scale":{"domain":["CTR","PT","KO1","KO2#"],"paddingInner":0.28,"paddingOuter":0.3},"axis":{"title":null,"domain":false,"ticks":false,"labelAngle":0,"labelPadding":2,"labelOverlap":false,"labelExpr":"[datum.value, datum.value=='CTR'?'n=15':datum.value=='PT'?'n=11':datum.value=='KO1'?'n=12':'n=8']"}},"y":{"field":"m","type":"quantitative","scale":{"domain":[-80,0],"nice":false},"axis":{"values":[0,-20,-40,-60,-80],"titleX":-26,"title":["resting membrane","potential (mV)"]}}}},
     {"data":{"name":"Cp"},"transform":[{"window":[{"op":"row_number","as":"r"}],"groupby":["g"]},{"calculate":"datum.r % 5 - 2","as":"j"}],"mark":{"type":"circle","size":14,"color":"#707070","opacity":1},"encoding":{"x":{"field":"g","type":"nominal"},"xOffset":{"field":"j","type":"quantitative","scale":{"domain":[-4,4]}},"y":{"field":"v","type":"quantitative"}}},
     {"data":{"name":"Cm"},"mark":{"type":"rule","color":"black","strokeWidth":1.5},"encoding":{"x":{"field":"g","type":"nominal"},"y":{"field":"lo","type":"quantitative"},"y2":{"field":"hi"}}},
     {"data":{"name":"Cm"},"mark":{"type":"tick","color":"black","thickness":1.5,"size":9,"orient":"horizontal"},"encoding":{"x":{"field":"g","type":"nominal"},"y":{"field":"lo","type":"quantitative"}}},
     {"data":{"name":"Cm"},"mark":{"type":"tick","color":"black","thickness":1.5,"size":9,"orient":"horizontal"},"encoding":{"x":{"field":"g","type":"nominal"},"y":{"field":"hi","type":"quantitative"}}},
     {"data":{"values":[{}]},"mark":{"type":"rule","strokeWidth":1.5,"color":"black"},"encoding":{"y":{"datum":0}}}]}
   ],"columns":1,"align":"none","spacing":0},
   {"concat":[
    {"concat":[
     {"width":102,"height":122,"layer":[
      {"data":{"name":"dC"},"mark":{"type":"line","color":"black","strokeWidth":1},"encoding":{"x":{"field":"t","type":"quantitative","scale":{"domain":[0,1.6],"nice":false},"axis":null},"y":{"field":"v","type":"quantitative","scale":{"domain":[-85,67],"nice":false},"axis":null},"detail":{"field":"s"}}},
      {"data":{"values":[{"l":"CTR"}]},"mark":{"type":"text","align":"left","baseline":"top","fontSize":11},"encoding":{"x":{"datum":0.04},"y":{"datum":-76},"text":{"field":"l"}}},
      {"data":{"values":[{"l":"D"}]},"mark":{"type":"text","align":"left","baseline":"middle","fontSize":17},"encoding":{"x":{"datum":-0.17},"y":{"datum":36},"text":{"field":"l"}}}]},
     {"width":102,"height":143,"layer":[
      {"data":{"name":"dP"},"mark":{"type":"line","color":"black","strokeWidth":1},"encoding":{"x":{"field":"t","type":"quantitative","scale":{"domain":[0,1.6],"nice":false},"axis":null},"y":{"field":"v","type":"quantitative","scale":{"domain":[-112,67],"nice":false},"axis":null},"detail":{"field":"s"}}},
      {"data":{"values":[{"l":"PT"}]},"mark":{"type":"text","align":"left","baseline":"top","fontSize":11},"encoding":{"x":{"datum":0.04},"y":{"datum":-76},"text":{"field":"l"}}},
      {"data":{"values":[{}]},"mark":{"type":"rule","color":"black","strokeWidth":1},"encoding":{"x":{"datum":1.03},"y":{"datum":-77},"y2":{"datum":-102}}},
      {"data":{"values":[{}]},"mark":{"type":"rule","color":"black","strokeWidth":1},"encoding":{"x":{"datum":1.03},"x2":{"datum":1.53},"y":{"datum":-102}}},
      {"data":{"values":[{"l":"25 mV"}]},"mark":{"type":"text","align":"right","baseline":"middle","fontSize":11},"encoding":{"x":{"datum":1.0},"y":{"datum":-90},"text":{"field":"l"}}},
      {"data":{"values":[{"l":"0.5 s"}]},"mark":{"type":"text","align":"right","baseline":"top","fontSize":11},"encoding":{"x":{"datum":1.53},"y":{"datum":-103},"text":{"field":"l"}}}]}
    ],"columns":2,"align":"none","spacing":12},
    {"concat":[
     {"width":102,"height":90,"layer":[
      {"data":{"name":"dK"},"mark":{"type":"line","color":"black","strokeWidth":1},"encoding":{"x":{"field":"t","type":"quantitative","scale":{"domain":[0,1.6],"nice":false},"axis":null},"y":{"field":"v","type":"quantitative","scale":{"domain":[-90,22],"nice":false},"axis":null},"detail":{"field":"s"}}},
      {"data":{"values":[{"l":"KO"}]},"mark":{"type":"text","align":"left","baseline":"top","fontSize":11},"encoding":{"x":{"datum":0.04},"y":{"datum":-76},"text":{"field":"l"}}}]},
     {"width":121,"height":70,"layer":[
      {"data":{"name":"stim"},"mark":{"type":"line","color":"black","strokeWidth":1.2},"encoding":{"x":{"field":"t","type":"quantitative","scale":{"domain":[-0.6,1.13],"nice":false},"axis":null},"y":{"field":"i","type":"quantitative","scale":{"domain":[-12,78],"nice":false},"axis":null},"detail":{"field":"s"},"order":{"field":"k"}}},
      {"data":{"values":[{"l":"20 pA"}]},"mark":{"type":"text","align":"right","baseline":"middle","fontSize":11},"encoding":{"x":{"datum":-0.02},"y":{"datum":12},"text":{"field":"l"}}},
      {"data":{"values":[{"l":"1 s"}]},"mark":{"type":"text","align":"center","baseline":"top","fontSize":11},"encoding":{"x":{"datum":0.49},"y":{"datum":-1},"text":{"field":"l"}}}]}
    ],"columns":2,"align":"none","spacing":0}
   ],"columns":1,"align":"none","spacing":-12}
  ],"columns":2,"align":"none","spacing":41}
 ],"columns":2,"align":"none","spacing":61},
 {"concat":[
  {"concat":[
   {"concat":[
    {"title":"E","width":107,"height":103,"layer":[
     {"data":{"name":"Em"},"mark":{"type":"bar","fill":"white","stroke":"black","strokeWidth":1.5},"encoding":{"x":{"field":"g","type":"nominal","scale":{"domain":["CTR","PT","KO1","KO2#"],"paddingInner":0.28,"paddingOuter":0.3},"axis":{"title":null,"ticks":false,"labelAngle":0,"labelPadding":2,"labelOverlap":false,"labelExpr":"[datum.value, datum.value=='CTR'?'n=14':datum.value=='PT'?'n=8':datum.value=='KO1'?'n=11':'n=8']"}},"y":{"field":"m","type":"quantitative","scale":{"domain":[0,100],"nice":false},"axis":{"values":[0,20,40,60,80,100],"titleX":-26,"title":"AP amplitude (mV)"}}}},
     {"data":{"name":"Ep"},"transform":[{"window":[{"op":"row_number","as":"r"}],"groupby":["g"]},{"calculate":"datum.r % 5 - 2","as":"j"}],"mark":{"type":"circle","size":14,"color":"#707070","opacity":1},"encoding":{"x":{"field":"g","type":"nominal"},"xOffset":{"field":"j","type":"quantitative","scale":{"domain":[-4,4]}},"y":{"field":"v","type":"quantitative"}}},
     {"data":{"name":"Em"},"mark":{"type":"rule","color":"black","strokeWidth":1.5},"encoding":{"x":{"field":"g","type":"nominal"},"y":{"field":"lo","type":"quantitative"},"y2":{"field":"hi"}}},
     {"data":{"name":"Em"},"mark":{"type":"tick","color":"black","thickness":1.5,"size":9,"orient":"horizontal"},"encoding":{"x":{"field":"g","type":"nominal"},"y":{"field":"lo","type":"quantitative"}}},
     {"data":{"name":"Em"},"mark":{"type":"tick","color":"black","thickness":1.5,"size":9,"orient":"horizontal"},"encoding":{"x":{"field":"g","type":"nominal"},"y":{"field":"hi","type":"quantitative"}}}]},
    {"title":"F","width":112,"height":103,"layer":[
     {"data":{"name":"Fm"},"mark":{"type":"bar","fill":"white","stroke":"black","strokeWidth":1.5},"encoding":{"x":{"field":"g","type":"nominal","scale":{"domain":["CTR","PT","KO1","KO2#"],"paddingInner":0.28,"paddingOuter":0.3},"axis":{"title":null,"ticks":false,"labelAngle":0,"labelPadding":2,"labelOverlap":false,"labelExpr":"[datum.value, datum.value=='CTR'?'n=14':datum.value=='PT'?'n=8':datum.value=='KO1'?'n=11':'n=8']"}},"y":{"field":"m","type":"quantitative","scale":{"domain":[0,4],"nice":false},"axis":{"values":[0,1,2,3,4],"titleX":-13,"title":"AP half-width (ms)"}}}},
     {"data":{"name":"Fp"},"transform":[{"window":[{"op":"row_number","as":"r"}],"groupby":["g"]},{"calculate":"datum.r % 5 - 2","as":"j"}],"mark":{"type":"circle","size":14,"color":"#707070","opacity":1},"encoding":{"x":{"field":"g","type":"nominal"},"xOffset":{"field":"j","type":"quantitative","scale":{"domain":[-4,4]}},"y":{"field":"v","type":"quantitative"}}},
     {"data":{"name":"Fm"},"mark":{"type":"rule","color":"black","strokeWidth":1.5},"encoding":{"x":{"field":"g","type":"nominal"},"y":{"field":"lo","type":"quantitative"},"y2":{"field":"hi"}}},
     {"data":{"name":"Fm"},"mark":{"type":"tick","color":"black","thickness":1.5,"size":9,"orient":"horizontal"},"encoding":{"x":{"field":"g","type":"nominal"},"y":{"field":"lo","type":"quantitative"}}},
     {"data":{"name":"Fm"},"mark":{"type":"tick","color":"black","thickness":1.5,"size":9,"orient":"horizontal"},"encoding":{"x":{"field":"g","type":"nominal"},"y":{"field":"hi","type":"quantitative"}}}]}
   ],"columns":2,"align":"none","spacing":24},
   {"title":"G","width":105,"height":103,"layer":[
    {"data":{"name":"Gm"},"mark":{"type":"bar","fill":"white","stroke":"black","strokeWidth":1.5},"encoding":{"x":{"field":"g","type":"nominal","scale":{"domain":["CTR","PT","KO1","KO2#"],"paddingInner":0.28,"paddingOuter":0.3},"axis":{"title":null,"domain":false,"ticks":false,"labelAngle":0,"labelPadding":2,"labelOverlap":false,"labelExpr":"[datum.value, datum.value=='CTR'?'n=14':datum.value=='PT'?'n=8':datum.value=='KO1'?'n=11':'n=8']"}},"y":{"field":"m","type":"quantitative","scale":{"domain":[-40,0],"nice":false},"axis":{"values":[0,-10,-20,-30,-40],"titleX":-26,"title":"AHP amplitude (mV)"}}}},
    {"data":{"name":"Gp"},"transform":[{"window":[{"op":"row_number","as":"r"}],"groupby":["g"]},{"calculate":"datum.r % 5 - 2","as":"j"}],"mark":{"type":"circle","size":14,"color":"#707070","opacity":1},"encoding":{"x":{"field":"g","type":"nominal"},"xOffset":{"field":"j","type":"quantitative","scale":{"domain":[-4,4]}},"y":{"field":"v","type":"quantitative"}}},
    {"data":{"name":"Gm"},"mark":{"type":"rule","color":"black","strokeWidth":1.5},"encoding":{"x":{"field":"g","type":"nominal"},"y":{"field":"lo","type":"quantitative"},"y2":{"field":"hi"}}},
    {"data":{"name":"Gm"},"mark":{"type":"tick","color":"black","thickness":1.5,"size":9,"orient":"horizontal"},"encoding":{"x":{"field":"g","type":"nominal"},"y":{"field":"lo","type":"quantitative"}}},
    {"data":{"name":"Gm"},"mark":{"type":"tick","color":"black","thickness":1.5,"size":9,"orient":"horizontal"},"encoding":{"x":{"field":"g","type":"nominal"},"y":{"field":"hi","type":"quantitative"}}},
    {"data":{"values":[{}]},"mark":{"type":"rule","strokeWidth":1.5,"color":"black"},"encoding":{"y":{"datum":0}}}]}
  ],"columns":2,"align":"none","spacing":37},
  {"title":"H","width":120,"height":103,"layer":[
   {"data":{"name":"Hm"},"mark":{"type":"bar","fill":"white","stroke":"black","strokeWidth":1.5},"encoding":{"x":{"field":"g","type":"nominal","scale":{"domain":["CTR","PT","KO1","KO2#"],"paddingInner":0.28,"paddingOuter":0.3},"axis":{"title":null,"domain":false,"ticks":false,"labelAngle":0,"labelPadding":2,"labelOverlap":false,"labelExpr":"[datum.value, datum.value=='CTR'?'n=14':datum.value=='PT'?'n=8':datum.value=='KO1'?'n=11':'n=8']"}},"y":{"field":"m","type":"quantitative","scale":{"domain":[-50,0],"nice":false},"axis":{"values":[0,-10,-20,-30,-40,-50],"titleX":-26,"title":"AP threshold (mV)"}}}},
   {"data":{"name":"Hp"},"transform":[{"window":[{"op":"row_number","as":"r"}],"groupby":["g"]},{"calculate":"datum.r % 5 - 2","as":"j"}],"mark":{"type":"circle","size":14,"color":"#707070","opacity":1},"encoding":{"x":{"field":"g","type":"nominal"},"xOffset":{"field":"j","type":"quantitative","scale":{"domain":[-4,4]}},"y":{"field":"v","type":"quantitative"}}},
   {"data":{"name":"Hm"},"mark":{"type":"rule","color":"black","strokeWidth":1.5},"encoding":{"x":{"field":"g","type":"nominal"},"y":{"field":"lo","type":"quantitative"},"y2":{"field":"hi"}}},
   {"data":{"name":"Hm"},"mark":{"type":"tick","color":"black","thickness":1.5,"size":9,"orient":"horizontal"},"encoding":{"x":{"field":"g","type":"nominal"},"y":{"field":"lo","type":"quantitative"}}},
   {"data":{"name":"Hm"},"mark":{"type":"tick","color":"black","thickness":1.5,"size":9,"orient":"horizontal"},"encoding":{"x":{"field":"g","type":"nominal"},"y":{"field":"hi","type":"quantitative"}}},
   {"data":{"values":[{}]},"mark":{"type":"rule","strokeWidth":1.5,"color":"black"},"encoding":{"y":{"datum":0}}},
   {"data":{"values":[{}]},"mark":{"type":"rule","strokeWidth":1.5,"color":"black"},"encoding":{"x":{"datum":"CTR"},"x2":{"datum":"KO1"},"y":{"datum":-48.8}}},
   {"data":{"values":[{}]},"mark":{"type":"rule","strokeWidth":1.5,"color":"black"},"encoding":{"x":{"datum":"CTR"},"y":{"datum":-48.8},"y2":{"datum":-46}}},
   {"data":{"values":[{}]},"mark":{"type":"rule","strokeWidth":1.5,"color":"black"},"encoding":{"x":{"datum":"KO1"},"y":{"datum":-48.8},"y2":{"datum":-46}}},
   {"data":{"values":[{}]},"mark":{"type":"text","text":"*","fontSize":16,"baseline":"middle","color":"black"},"encoding":{"x":{"datum":"PT"},"y":{"datum":-47.5}}}]}
 ],"columns":2,"align":"none","spacing":44}
],"columns":1,"align":"none","spacing":14},
{"concat":[
 {"concat":[
  {"title":{"text":"I","offset":0},"width":107,"height":105,"layer":[
   {"data":{"name":"Im"},"mark":{"type":"bar","fill":"white","stroke":"black","strokeWidth":1.5},"encoding":{"x":{"field":"g","type":"nominal","scale":{"domain":["CTR","PT","KO1","KO2#"],"paddingInner":0.28,"paddingOuter":0.3},"axis":{"title":null,"ticks":false,"labelAngle":0,"labelPadding":2,"labelOverlap":false,"labelExpr":"[datum.value, datum.value=='CTR'?'n=14':datum.value=='PT'?'n=8':datum.value=='KO1'?'n=11':'n=8']"}},"y":{"field":"m","type":"quantitative","scale":{"domain":[0,80],"nice":false},"axis":{"values":[0,20,40,60,80],"titleX":-20,"title":"rheobase (pA)"}}}},
   {"data":{"name":"Ip"},"transform":[{"window":[{"op":"row_number","as":"r"}],"groupby":["g"]},{"calculate":"datum.r % 5 - 2","as":"j"}],"mark":{"type":"circle","size":14,"color":"#707070","opacity":1},"encoding":{"x":{"field":"g","type":"nominal"},"xOffset":{"field":"j","type":"quantitative","scale":{"domain":[-4,4]}},"y":{"field":"v","type":"quantitative"}}},
   {"data":{"name":"Im"},"mark":{"type":"rule","color":"black","strokeWidth":1.5},"encoding":{"x":{"field":"g","type":"nominal"},"y":{"field":"lo","type":"quantitative"},"y2":{"field":"hi"}}},
   {"data":{"name":"Im"},"mark":{"type":"tick","color":"black","thickness":1.5,"size":9,"orient":"horizontal"},"encoding":{"x":{"field":"g","type":"nominal"},"y":{"field":"lo","type":"quantitative"}}},
   {"data":{"name":"Im"},"mark":{"type":"tick","color":"black","thickness":1.5,"size":9,"orient":"horizontal"},"encoding":{"x":{"field":"g","type":"nominal"},"y":{"field":"hi","type":"quantitative"}}},
   {"data":{"values":[{}]},"mark":{"type":"rule","strokeWidth":1.5,"color":"black"},"encoding":{"x":{"datum":"CTR"},"x2":{"datum":"KO1"},"y":{"datum":65.5}}},
   {"data":{"values":[{}]},"mark":{"type":"rule","strokeWidth":1.5,"color":"black"},"encoding":{"x":{"datum":"CTR"},"y":{"datum":65.5},"y2":{"datum":62}}},
   {"data":{"values":[{}]},"mark":{"type":"rule","strokeWidth":1.5,"color":"black"},"encoding":{"x":{"datum":"KO1"},"y":{"datum":65.5},"y2":{"datum":62}}},
   {"data":{"values":[{}]},"mark":{"type":"text","text":"**","fontSize":16,"baseline":"middle","color":"black"},"encoding":{"x":{"datum":"PT"},"y":{"datum":68}}}]},
  {"concat":[
   {"title":{"text":"J","offset":0},"width":105,"height":98,"data":{"name":"J"},"layer":[
    {"mark":{"type":"rule","color":"black","strokeWidth":1},"encoding":{"x":{"field":"c","type":"quantitative","scale":{"domain":[-6,30],"nice":false},"axis":{"values":[0,10,20,30],"tickCount":4,"title":"current, injected from rh (pA)","labelFontSize":13,"labelOverlap":false,"labelSeparation":0,"labelBound":false,"labelFlush":false,"tickSize":3,"labelPadding":0,"titlePadding":1,"titleFontSize":12}},"y":{"field":"lo","type":"quantitative","scale":{"domain":[0,25],"nice":false},"axis":{"values":[0,5,10,15,20,25],"titleX":-20,"titleFontSize":11,"title":["evoked AP","frequency (Hz)"]}},"y2":{"field":"hi"}}},
    {"mark":{"type":"tick","color":"black","thickness":1,"size":5,"orient":"horizontal"},"encoding":{"x":{"field":"c","type":"quantitative","axis":{"values":[0,10,20,30],"tickCount":4,"title":"current, injected from rh (pA)","labelFontSize":13,"labelOverlap":false,"labelSeparation":0,"labelBound":false,"labelFlush":false,"tickSize":3,"labelPadding":0,"titlePadding":1,"titleFontSize":12}},"y":{"field":"lo","type":"quantitative"}}},
    {"mark":{"type":"tick","color":"black","thickness":1,"size":5,"orient":"horizontal"},"encoding":{"x":{"field":"c","type":"quantitative","axis":{"values":[0,10,20,30],"tickCount":4,"title":"current, injected from rh (pA)","labelFontSize":13,"labelOverlap":false,"labelSeparation":0,"labelBound":false,"labelFlush":false,"tickSize":3,"labelPadding":0,"titlePadding":1,"titleFontSize":12}},"y":{"field":"hi","type":"quantitative"}}},
    {"mark":{"type":"line","color":"black","strokeWidth":1},"encoding":{"x":{"field":"c","type":"quantitative","axis":{"values":[0,10,20,30],"tickCount":4,"title":"current, injected from rh (pA)","labelFontSize":13,"labelOverlap":false,"labelSeparation":0,"labelBound":false,"labelFlush":false,"tickSize":3,"labelPadding":0,"titlePadding":1,"titleFontSize":12}},"y":{"field":"m","type":"quantitative"},"detail":{"field":"g"}}},
    {"mark":{"type":"point","filled":true,"stroke":"black","strokeWidth":1,"size":34,"opacity":1},"encoding":{"x":{"field":"c","type":"quantitative","axis":{"values":[0,10,20,30],"tickCount":4,"title":"current, injected from rh (pA)","labelFontSize":13,"labelOverlap":false,"labelSeparation":0,"labelBound":false,"labelFlush":false,"tickSize":3,"labelPadding":0,"titlePadding":1,"titleFontSize":12}},"y":{"field":"m","type":"quantitative"},"fill":{"field":"g","type":"nominal","scale":{"domain":["CTR","PT","KO1","KO2#"],"range":["black","white","white","black"]},"legend":null}}},
    {"data":{"values":[{}]},"mark":{"type":"rule","strokeWidth":1.2,"color":"black"},"encoding":{"x":{"datum":32.5},"y":{"datum":10.2},"y2":{"datum":14.2}}},
    {"data":{"values":[{}]},"mark":{"type":"rule","strokeWidth":1.2,"color":"black"},"encoding":{"x":{"datum":31.3},"x2":{"datum":32.5},"y":{"datum":10.2}}},
    {"data":{"values":[{}]},"mark":{"type":"rule","strokeWidth":1.2,"color":"black"},"encoding":{"x":{"datum":31.3},"x2":{"datum":32.5},"y":{"datum":14.2}}},
    {"data":{"values":[{}]},"mark":{"type":"text","text":"*","fontSize":16,"baseline":"middle","align":"left","color":"black"},"encoding":{"x":{"datum":33.2},"y":{"datum":11.5}}}]},
   {"width":36,"height":76,"data":{"name":"Jleg"},"layer":[
    {"mark":{"type":"point","filled":true,"stroke":"black","strokeWidth":1,"size":34,"opacity":1,"shape":"M-2.2,0L-1,0M1,0L2.2,0M1,0A1,1 0 1,1 -1,0A1,1 0 1,1 1,0Z"},"encoding":{"x":{"datum":1.6,"type":"quantitative","scale":{"domain":[0,10]},"axis":null},"y":{"field":"g","type":"nominal","scale":{"domain":["CTR","PT","KO1","KO2#"],"paddingInner":0,"paddingOuter":0},"axis":null},"fill":{"field":"g","type":"nominal","scale":{"domain":["CTR","PT","KO1","KO2#"],"range":["black","white","white","black"]},"legend":null}}},
    {"mark":{"type":"text","align":"left","baseline":"middle","fontSize":10.5,"lineBreak":"|","lineHeight":9,"color":"black"},"encoding":{"x":{"datum":3.5,"type":"quantitative"},"y":{"field":"g","type":"nominal"},"text":{"field":"n"}}}]}
  ],"columns":2,"align":"none","spacing":2}
 ],"columns":1,"align":"none","spacing":0},
 {"concat":[
  {"concat":[
   {"concat":[
    {"width":165,"height":138,"layer":[
     {"data":{"name":"kCL"},"mark":{"type":"line","color":"black","strokeWidth":1.2},"encoding":{"x":{"field":"t","type":"quantitative","scale":{"domain":[0,5.3],"nice":false},"axis":null},"y":{"field":"v","type":"quantitative","scale":{"domain":[-64,74],"nice":false},"axis":null}}},
     {"data":{"values":[{"l":"K"}]},"mark":{"type":"text","align":"left","baseline":"middle","fontSize":17},"encoding":{"x":{"datum":0},"y":{"datum":39},"text":{"field":"l"}}},
     {"data":{"values":[{"l":"CTR"}]},"mark":{"type":"text","align":"left","baseline":"middle","fontSize":11},"encoding":{"x":{"datum":0.05},"y":{"datum":15},"text":{"field":"l"}}}]},
    {"width":98,"height":136,"layer":[
     {"data":{"name":"kCS"},"mark":{"type":"line","color":"black","strokeWidth":1},"encoding":{"x":{"field":"t","type":"quantitative","scale":{"domain":[0,25],"nice":false},"axis":null},"y":{"field":"v","type":"quantitative","scale":{"domain":[-19,20],"nice":false},"axis":null}}},
     {"data":{"values":[{"l":"CTR"}]},"mark":{"type":"text","align":"left","baseline":"middle","fontSize":11},"encoding":{"x":{"datum":0.3},"y":{"datum":3.1},"text":{"field":"l"}}}]}
   ],"columns":2,"align":"none","spacing":22},
   {"concat":[
    {"width":165,"height":46,"layer":[
     {"data":{"name":"kKL"},"mark":{"type":"line","color":"black","strokeWidth":1.2},"encoding":{"x":{"field":"t","type":"quantitative","scale":{"domain":[0,5.3],"nice":false},"axis":null},"y":{"field":"v","type":"quantitative","scale":{"domain":[-30,16],"nice":false},"axis":null}}},
     {"data":{"values":[{"l":"KO"}]},"mark":{"type":"text","align":"left","baseline":"middle","fontSize":11},"encoding":{"x":{"datum":0.05},"y":{"datum":10},"text":{"field":"l"}}}]},
    {"width":98,"height":43,"layer":[
     {"data":{"name":"kKS"},"mark":{"type":"line","color":"black","strokeWidth":1},"encoding":{"x":{"field":"t","type":"quantitative","scale":{"domain":[0,25],"nice":false},"axis":null},"y":{"field":"v","type":"quantitative","scale":{"domain":[-8,4.3],"nice":false},"axis":null}}},
     {"data":{"values":[{"l":"KO"}]},"mark":{"type":"text","align":"left","baseline":"middle","fontSize":11},"encoding":{"x":{"datum":0.3},"y":{"datum":2.6},"text":{"field":"l"}}}]}
   ],"columns":2,"align":"none","spacing":22},
   {"concat":[
    {"width":165,"height":71,"layer":[
     {"data":{"name":"kPL"},"mark":{"type":"line","color":"black","strokeWidth":1.2},"encoding":{"x":{"field":"t","type":"quantitative","scale":{"domain":[0,5.3],"nice":false},"axis":null},"y":{"field":"v","type":"quantitative","scale":{"domain":[-40,31],"nice":false},"axis":null}}},
     {"data":{"values":[{"l":"PT"}]},"mark":{"type":"text","align":"left","baseline":"middle","fontSize":11},"encoding":{"x":{"datum":0.05},"y":{"datum":14},"text":{"field":"l"}}},
     {"data":{"values":[{}]},"mark":{"type":"rule","color":"black","strokeWidth":1},"encoding":{"x":{"datum":1.03},"y":{"datum":-17},"y2":{"datum":-37}}},
     {"data":{"values":[{}]},"mark":{"type":"rule","color":"black","strokeWidth":1},"encoding":{"x":{"datum":1.03},"x2":{"datum":2.03},"y":{"datum":-37}}},
     {"data":{"values":[{"l":"20 pA"}]},"mark":{"type":"text","align":"right","baseline":"middle","fontSize":11},"encoding":{"x":{"datum":0.97},"y":{"datum":-27},"text":{"field":"l"}}},
     {"data":{"values":[{"l":"1 s"}]},"mark":{"type":"text","align":"center","baseline":"top","fontSize":11},"encoding":{"x":{"datum":1.53},"y":{"datum":-38},"text":{"field":"l"}}}]},
    {"width":98,"height":93,"layer":[
     {"data":{"name":"kPS"},"mark":{"type":"line","color":"black","strokeWidth":1},"encoding":{"x":{"field":"t","type":"quantitative","scale":{"domain":[0,25],"nice":false},"axis":null},"y":{"field":"v","type":"quantitative","scale":{"domain":[-18,8.6],"nice":false},"axis":null}}},
     {"data":{"values":[{"l":"PT"}]},"mark":{"type":"text","align":"left","baseline":"middle","fontSize":11},"encoding":{"x":{"datum":0.3},"y":{"datum":3.4},"text":{"field":"l"}}},
     {"data":{"values":[{}]},"mark":{"type":"rule","color":"black","strokeWidth":1},"encoding":{"x":{"datum":15},"y":{"datum":-4},"y2":{"datum":-14}}},
     {"data":{"values":[{}]},"mark":{"type":"rule","color":"black","strokeWidth":1},"encoding":{"x":{"datum":15},"x2":{"datum":25},"y":{"datum":-14}}},
     {"data":{"values":[{"l":"10 pA"}]},"mark":{"type":"text","align":"right","baseline":"middle","fontSize":11},"encoding":{"x":{"datum":14.5},"y":{"datum":-9},"text":{"field":"l"}}},
     {"data":{"values":[{"l":"10 ms"}]},"mark":{"type":"text","align":"right","baseline":"top","fontSize":11},"encoding":{"x":{"datum":25},"y":{"datum":-14.3},"text":{"field":"l"}}}]}
   ],"columns":2,"align":"none","spacing":22}
  ],"columns":1,"align":"none","spacing":0},
  {"concat":[
   {"title":"L","width":106,"height":101,"layer":[
    {"data":{"name":"Lm"},"mark":{"type":"bar","fill":"white","stroke":"black","strokeWidth":1.5},"encoding":{"x":{"field":"g","type":"nominal","scale":{"domain":["CTR","PT","KO1","KO2#"],"paddingInner":0.28,"paddingOuter":0.3},"axis":{"title":null,"ticks":false,"labelAngle":0,"labelPadding":2,"labelOverlap":false,"labelExpr":"[datum.value, datum.value=='CTR'?'n=13':'n=7']"}},"y":{"field":"m","type":"quantitative","scale":{"domain":[0,30],"nice":false},"axis":{"values":[0,10,20,30],"titleX":-23,"title":"mEPSC amplitude (pA)"}}}},
    {"data":{"name":"Lp"},"transform":[{"window":[{"op":"row_number","as":"r"}],"groupby":["g"]},{"calculate":"datum.r % 5 - 2","as":"j"}],"mark":{"type":"circle","size":14,"color":"#707070","opacity":1},"encoding":{"x":{"field":"g","type":"nominal"},"xOffset":{"field":"j","type":"quantitative","scale":{"domain":[-4,4]}},"y":{"field":"v","type":"quantitative"}}},
    {"data":{"name":"Lm"},"mark":{"type":"rule","color":"black","strokeWidth":1.5},"encoding":{"x":{"field":"g","type":"nominal"},"y":{"field":"lo","type":"quantitative"},"y2":{"field":"hi"}}},
    {"data":{"name":"Lm"},"mark":{"type":"tick","color":"black","thickness":1.5,"size":9,"orient":"horizontal"},"encoding":{"x":{"field":"g","type":"nominal"},"y":{"field":"lo","type":"quantitative"}}},
    {"data":{"name":"Lm"},"mark":{"type":"tick","color":"black","thickness":1.5,"size":9,"orient":"horizontal"},"encoding":{"x":{"field":"g","type":"nominal"},"y":{"field":"hi","type":"quantitative"}}},
    {"data":{"values":[{}]},"mark":{"type":"rule","strokeWidth":1.5,"color":"black"},"encoding":{"x":{"datum":"CTR"},"x2":{"datum":"KO1"},"y":{"datum":30.5}}},
    {"data":{"values":[{}]},"mark":{"type":"rule","strokeWidth":1.5,"color":"black"},"encoding":{"x":{"datum":"CTR"},"y":{"datum":30.5},"y2":{"datum":28}}},
    {"data":{"values":[{}]},"mark":{"type":"rule","strokeWidth":1.5,"color":"black"},"encoding":{"x":{"datum":"KO1"},"y":{"datum":30.5},"y2":{"datum":28.3}}},
    {"data":{"values":[{}]},"mark":{"type":"rule","strokeWidth":1.5,"color":"black"},"encoding":{"x":{"datum":"PT"},"x2":{"datum":"KO2#"},"y":{"datum":28.3}}},
    {"data":{"values":[{}]},"mark":{"type":"rule","strokeWidth":1.5,"color":"black"},"encoding":{"x":{"datum":"PT"},"y":{"datum":28.3},"y2":{"datum":25.5}}},
    {"data":{"values":[{}]},"mark":{"type":"rule","strokeWidth":1.5,"color":"black"},"encoding":{"x":{"datum":"KO2#"},"y":{"datum":28.3},"y2":{"datum":25.5}}},
    {"data":{"values":[{}]},"mark":{"type":"text","text":"*","fontSize":16,"baseline":"middle","color":"black"},"encoding":{"x":{"datum":"PT"},"y":{"datum":31.6}}}]},
   {"title":{"text":"M","offset":-4},"width":105,"height":106,"layer":[
    {"data":{"name":"Mm"},"mark":{"type":"bar","fill":"white","stroke":"black","strokeWidth":1.5},"encoding":{"x":{"field":"g","type":"nominal","scale":{"domain":["CTR","PT","KO1","KO2#"],"paddingInner":0.28,"paddingOuter":0.3},"axis":{"title":null,"ticks":false,"labelAngle":0,"labelPadding":2,"labelOverlap":false,"labelExpr":"[datum.value, datum.value=='CTR'?'n=13':'n=7']"}},"y":{"field":"m","type":"quantitative","scale":{"domain":[0,0.5],"nice":false},"axis":{"values":[0,0.1,0.2,0.3,0.4,0.5],"format":".1f","titleX":-23,"title":"mEPSC frequency (Hz)"}}}},
    {"data":{"name":"Mp"},"transform":[{"window":[{"op":"row_number","as":"r"}],"groupby":["g"]},{"calculate":"datum.r % 5 - 2","as":"j"}],"mark":{"type":"circle","size":14,"color":"#707070","opacity":1},"encoding":{"x":{"field":"g","type":"nominal"},"xOffset":{"field":"j","type":"quantitative","scale":{"domain":[-4,4]}},"y":{"field":"v","type":"quantitative"}}},
    {"data":{"name":"Mm"},"mark":{"type":"rule","color":"black","strokeWidth":1.5},"encoding":{"x":{"field":"g","type":"nominal"},"y":{"field":"lo","type":"quantitative"},"y2":{"field":"hi"}}},
    {"data":{"name":"Mm"},"mark":{"type":"tick","color":"black","thickness":1.5,"size":9,"orient":"horizontal"},"encoding":{"x":{"field":"g","type":"nominal"},"y":{"field":"lo","type":"quantitative"}}},
    {"data":{"name":"Mm"},"mark":{"type":"tick","color":"black","thickness":1.5,"size":9,"orient":"horizontal"},"encoding":{"x":{"field":"g","type":"nominal"},"y":{"field":"hi","type":"quantitative"}}},
    {"data":{"values":[{}]},"mark":{"type":"rule","strokeWidth":1.5,"color":"black"},"encoding":{"x":{"datum":"CTR"},"x2":{"datum":"PT"},"y":{"datum":0.485}}},
    {"data":{"values":[{}]},"mark":{"type":"rule","strokeWidth":1.5,"color":"black"},"encoding":{"x":{"datum":"CTR"},"y":{"datum":0.485},"y2":{"datum":0.46}}},
    {"data":{"values":[{}]},"mark":{"type":"rule","strokeWidth":1.5,"color":"black"},"encoding":{"x":{"datum":"PT"},"y":{"datum":0.485},"y2":{"datum":0.38}}},
    {"data":{"values":[{}]},"mark":{"type":"text","text":"*","fontSize":16,"baseline":"middle","color":"black"},"encoding":{"x":{"datum":"CTR","bandPosition":1},"y":{"datum":0.5}}}]}
  ],"columns":1,"align":"none","spacing":0}
 ],"columns":2,"align":"none","spacing":28}
],"columns":2,"align":"none","spacing":21}
],
"columns":1,"align":"none","spacing":-10,
"config":{
 "view":{"stroke":null},
 "font":"Lato",
 "axis":{"domainColor":"black","domainWidth":1.5,"tickColor":"black","tickWidth":1.5,"tickSize":3,"labelColor":"black","labelFont":"Lato","labelFontWeight":"bold","titleFont":"Lato","titleFontWeight":"bold","titleFontSize":11.5,"titleColor":"black","grid":false},
 "axisX":{"labelFontSize":11.5,"labelLineHeight":11,"labelOverlap":false},
 "axisY":{"labelFontSize":12,"labelOverlap":false,"labelPadding":1},
 "title":{"fontSize":17,"fontWeight":"bold","anchor":"start","frame":"bounds","color":"black","font":"Lato","offset":2},
 "text":{"font":"Lato","fontWeight":"bold","fontSize":12,"color":"black"}
}
}
